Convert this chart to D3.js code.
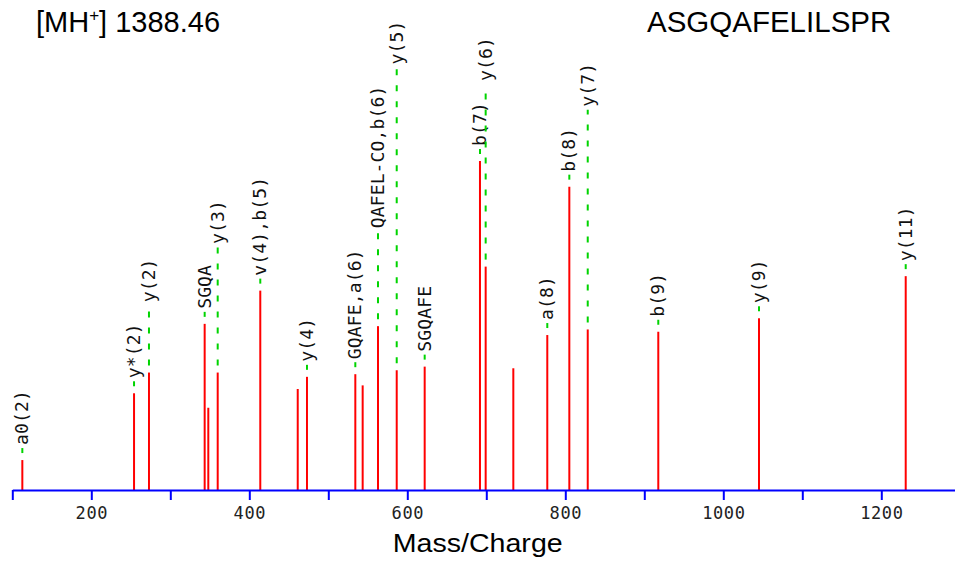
<!DOCTYPE html>
<html>
<head>
<meta charset="utf-8">
<script src="https://cdn.jsdelivr.net/npm/d3@7/dist/d3.min.js"></script>
<style>
  html, body { margin: 0; padding: 0; background: #fff; }
  svg { display: block; }
</style>
</head>
<body>
<svg id="chart" width="955" height="563"></svg>
<script>
// Fragment ion peaks of ASGQAFELILSPR: m/z, relative intensity, ion annotation
const mz = [112.7, 254.1, 273.0, 343.5, 348.1, 360.0, 413.9, 461.3, 473.0,
            534.2, 543.5, 562.9, 586.6, 622.0, 692.0, 699.2, 734.2, 777.2,
            805.1, 828.4, 917.7, 1045.2, 1230.9];
const intensity = [9.1, 29.4, 35.7, 50.5, 25.0, 35.7, 60.6, 30.7, 34.4,
                   35.2, 31.8, 49.8, 36.4, 37.5, 100, 67.9, 37.0, 47.1,
                   92.2, 48.8, 48.1, 52.2, 65.0];
const ionLabels = ["a0(2)", "y*(2)", "y(2)", "SGQA", "", "y(3)", "v(4),b(5)", "", "y(4)",
                   "GQAFE,a(6)", "", "QAFEL-CO,b(6)", "y(5)", "SGQAFE", "b(7)", "y(6)", "", "a(8)",
                   "b(8)", "y(7)", "b(9)", "y(9)", "y(11)"];
const tickValues = [100, 200, 300, 400, 500, 600, 700, 800, 900, 1000, 1100, 1200, 1300];
const tickLabels = ["", "200", "", "400", "", "600", "", "800", "", "1000", "", "1200", ""];
const precursorText = "1388.46";
const peptide = "ASGQAFELILSPR";
const xTitle = "Mass/Charge";

const svg = d3.select("#chart");
const W = 955, H = 563;
svg.append("rect").attr("width", W).attr("height", H).attr("fill", "#fff");

const baseY = 490;
const x = d3.scaleLinear().domain([100, 1300]).range([12.3, 960.3]);
const y = d3.scaleLinear().domain([0, 100]).range([baseY, 161]);

const peaks = mz.map((m, i) => ({ mz: m, inten: intensity[i], label: ionLabels[i] }));

const monoFont = "'DejaVu Sans Mono', monospace";

// Peak sticks
svg.append("g").selectAll("line").data(peaks).join("line")
  .attr("x1", d => x(d.mz)).attr("x2", d => x(d.mz))
  .attr("y1", y(0)).attr("y2", d => y(d.inten))
  .attr("stroke", "#ff0000").attr("stroke-width", 2);

// Annotations: placed left to right, lifted above any close neighbour's label
const annG = svg.append("g");
const placed = [];
const natGap = 15, pushGap = 21, nearDx = 25;
peaks.filter(d => d.label).forEach(d => {
  const px = x(d.mz), top = y(d.inten);
  const t = annG.append("text")
    .attr("font-family", monoFont).attr("font-size", 18)
    .attr("letter-spacing", "0.15px")
    .attr("fill", "#111").attr("text-anchor", "start")
    .attr("dy", "0.34em")
    .text(d.label);
  const len = t.node().getComputedTextLength();
  let s = top - natGap;
  let moved = true;
  while (moved) {
    moved = false;
    for (const p of placed) {
      if (Math.abs(p.x - px) < nearDx && s > p.top - pushGap) {
        s = p.top - pushGap;
        moved = true;
      }
    }
  }
  t.attr("transform", `translate(${px},${s}) rotate(-90)`);
  placed.push({ x: px, top: s - len });
  annG.append("line")
    .attr("x1", px).attr("x2", px)
    .attr("y1", top).attr("y2", s + 3)
    .attr("stroke", "#00d400").attr("stroke-width", 2)
    .attr("stroke-dasharray", "6,10").attr("stroke-dashoffset", 9);
});

// m/z axis
const axis = d3.axisBottom(x)
  .tickValues(tickValues)
  .tickFormat((v, i) => tickLabels[i])
  .tickSize(10).tickSizeOuter(0).tickPadding(7);
const ax = svg.append("g").attr("transform", `translate(0,${baseY})`).call(axis);
ax.select(".domain").attr("stroke", "#0000ff").attr("stroke-width", 2);
ax.selectAll(".tick line").attr("stroke", "#0000ff").attr("stroke-width", 2);
ax.selectAll(".tick text")
  .attr("font-family", monoFont).attr("font-size", 17)
  .attr("letter-spacing", "0.6px").attr("fill", "#222");

// Axis title
svg.append("text")
  .attr("x", 477.7).attr("y", 551.7)
  .attr("text-anchor", "middle")
  .attr("font-family", "'Liberation Sans', Arial, sans-serif")
  .attr("font-size", 26)
  .attr("textLength", 170).attr("lengthAdjust", "spacingAndGlyphs")
  .attr("fill", "#000")
  .text(xTitle);

// Header: precursor mass and peptide sequence
const mh = svg.append("text")
  .attr("x", 36).attr("y", 32)
  .attr("font-family", "'Liberation Sans', Arial, sans-serif")
  .attr("font-size", 29).attr("fill", "#000");
mh.append("tspan").text("[MH");
mh.append("tspan").attr("font-size", 17).attr("dy", -11).text("+");
mh.append("tspan").attr("dy", 11).text("] " + precursorText);

svg.append("text")
  .attr("x", 647).attr("y", 32)
  .attr("font-family", "'Liberation Sans', Arial, sans-serif")
  .attr("font-size", 29.5).attr("fill", "#000")
  .text(peptide);
</script>
</body>
</html>
